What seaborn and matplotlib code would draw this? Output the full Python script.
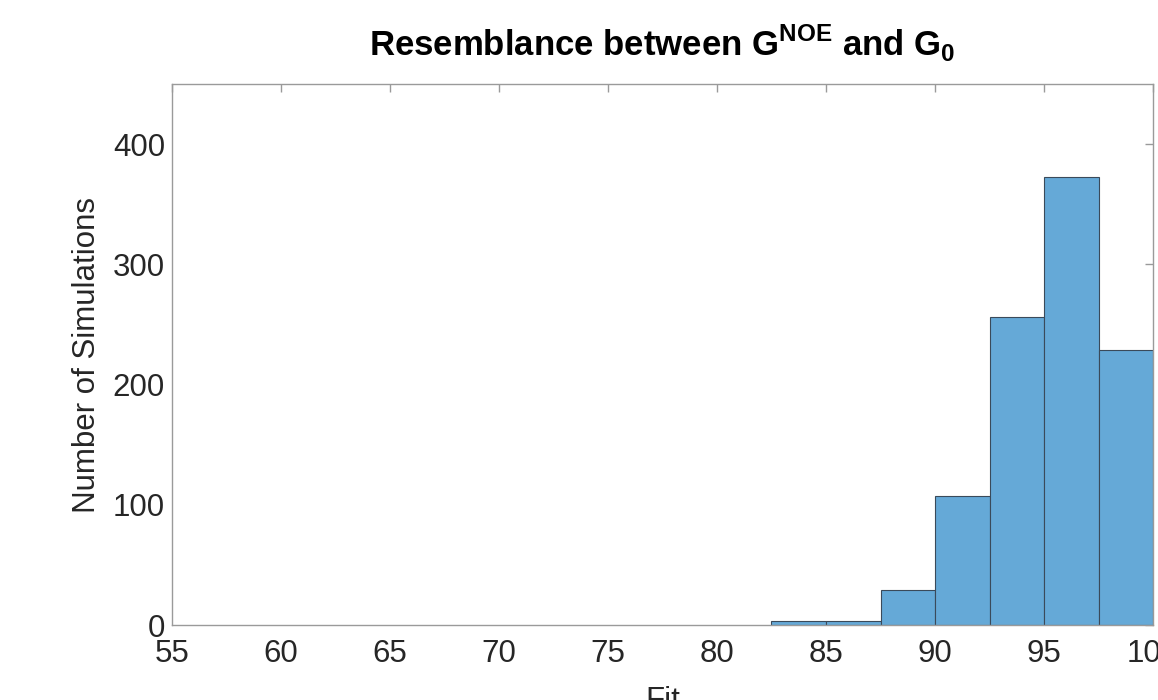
import numpy as np
import pandas as pd
import matplotlib
matplotlib.use("Agg")
import matplotlib.pyplot as plt
import seaborn as sns

# Histogram of fit scores over 1000 simulations
bin_edges = [82.5, 85.0, 87.5, 90.0, 92.5, 95.0, 97.5, 100.0]
counts = [3, 3, 29, 107, 256, 373, 229]
x_ticks = [55, 60, 65, 70, 75, 80, 85, 90, 95, 100]
y_ticks = [0, 100, 200, 300, 400]

centers = [(a + b) / 2 for a, b in zip(bin_edges[:-1], bin_edges[1:])]
df = pd.DataFrame({"Fit": centers, "count": counts})

sns.set_theme(style="white")
plt.rcParams["font.family"] = ["Liberation Sans", "DejaVu Sans"]
plt.rcParams["mathtext.fontset"] = "custom"
plt.rcParams["mathtext.rm"] = "Liberation Sans"
plt.rcParams["mathtext.bf"] = "Liberation Sans:bold"

fig = plt.figure(figsize=(11.58, 7.0), dpi=100)
ax = fig.add_axes([0.1485, 0.1071, 0.8472, 0.7729])

sns.histplot(data=df, x="Fit", weights="count", bins=bin_edges, ax=ax,
             color="#65a9d7", alpha=1.0, edgecolor="#3a4a5a", linewidth=0.8)

ax.set_xlim(55, 100)
ax.set_ylim(0, 450)
ax.set_xticks(x_ticks)
ax.set_yticks(y_ticks)

spine_col = "#9a9a9a"
for s in ax.spines.values():
    s.set_visible(True)
    s.set_color(spine_col)
    s.set_linewidth(1.0)

ax.tick_params(axis="both", which="major", direction="in", length=6,
               width=1.0, color=spine_col, labelsize=22.5, labelcolor="#262626",
               top=True, right=True)
ax.tick_params(axis="x", pad=10)
ax.tick_params(axis="y", pad=5)

ax.set_xlabel("Fit", fontsize=22.5, color="#262626", labelpad=12)
ax.set_ylabel("Number of Simulations", fontsize=22.5, color="#262626", labelpad=8)
ax.set_title(r"Resemblance between G$^{\mathbf{NOE}}$ and G$_{\mathbf{0}}$",
             fontsize=25, fontweight="bold", color="black", pad=20)

fig.savefig("out.png", dpi=100)
